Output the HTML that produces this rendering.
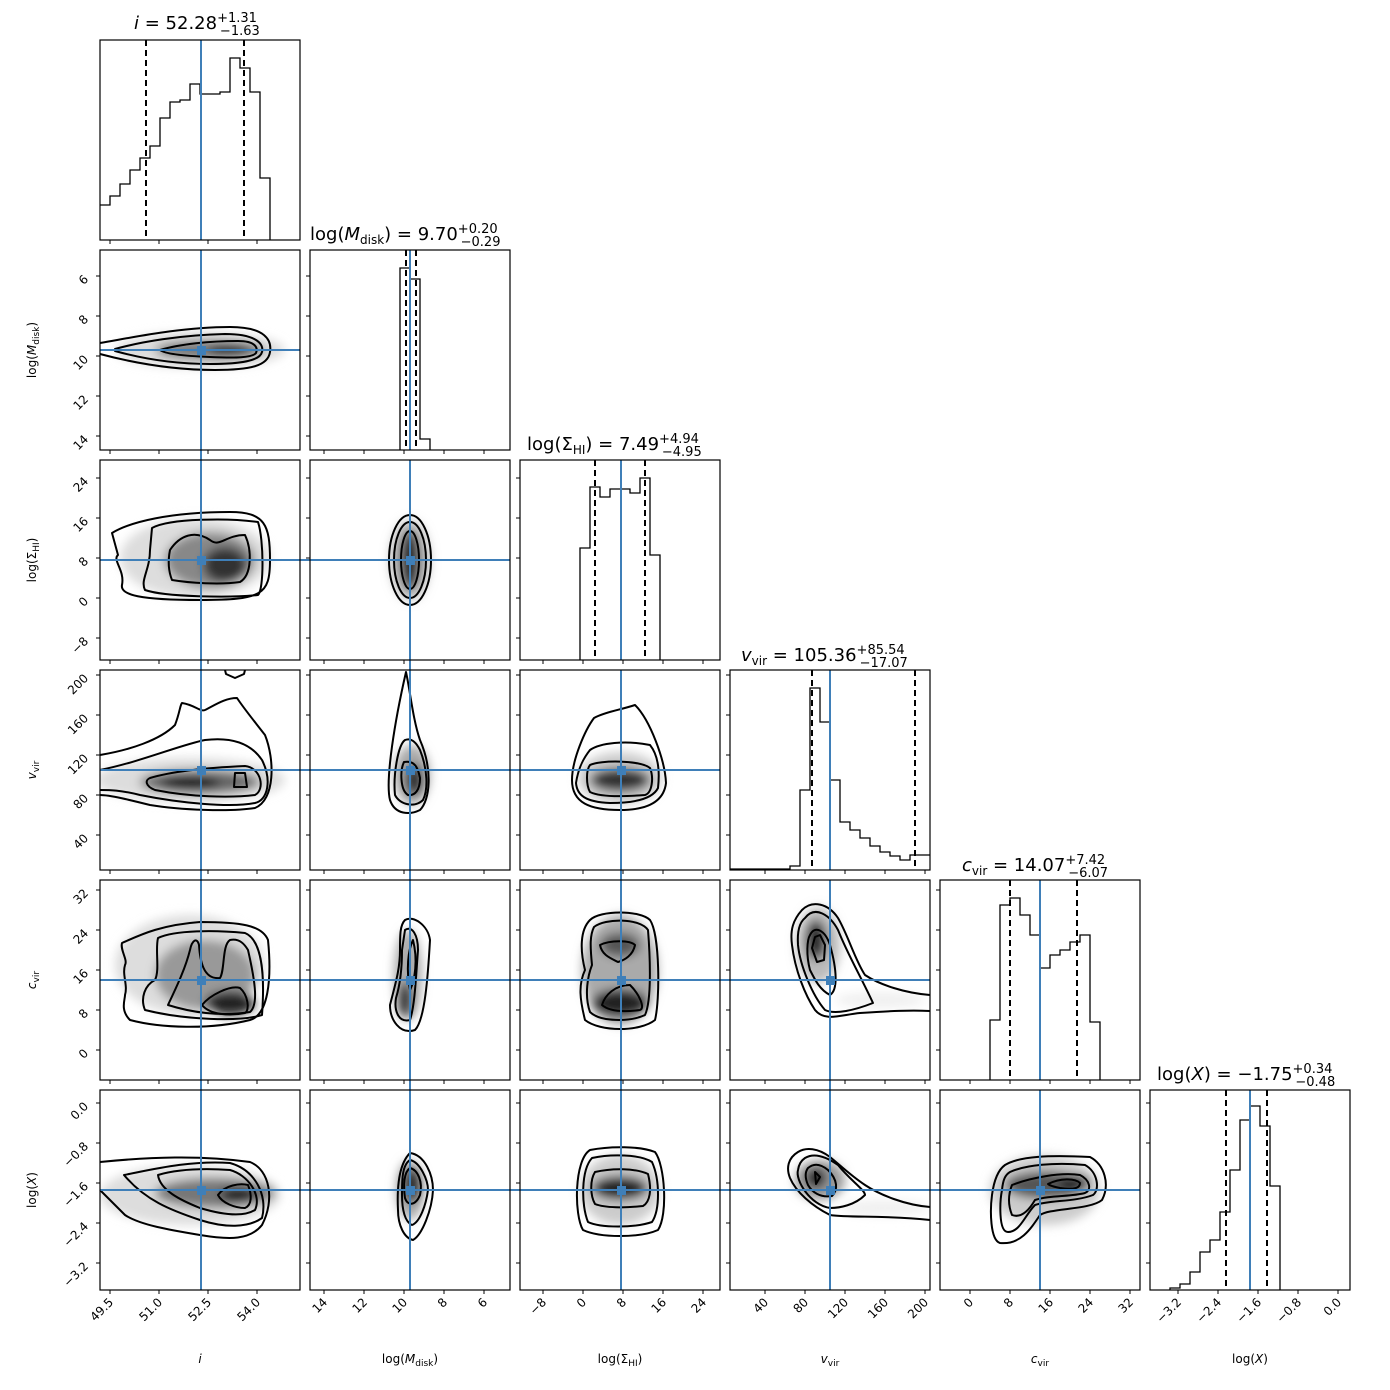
<!DOCTYPE html>
<html><head><meta charset="utf-8"><style>
html,body{margin:0;padding:0;background:#fff}
svg{display:block}
text{font-family:"DejaVu Sans","Liberation Sans",sans-serif;fill:#000}
.c{fill:none;stroke:#000;stroke-width:2;stroke-linejoin:round}
.h{fill:none;stroke:#000;stroke-width:1.3}
.d{stroke:#000;stroke-width:2;stroke-dasharray:6,4}
.b{stroke:#3f7fb8;stroke-width:2}
.ax{fill:none;stroke:#000;stroke-width:1.2}
.tk{stroke:#000;stroke-width:1}
.tl{font-size:12px}
.ti{font-size:18px}
.lb{font-size:12px}
</style></head><body>
<svg width="1390" height="1390" viewBox="0 0 1390 1390" xmlns="http://www.w3.org/2000/svg">
<defs>
<filter id="bl" x="-50%" y="-50%" width="200%" height="200%"><feGaussianBlur stdDeviation="5"/></filter>
</defs>

<!-- ===== Histograms ===== -->
<path class="h" d="M100,205 H110 V196 H120 V184 H130 V170 H140 V158 H150 V146 H160 V118 H170 V102 H180 V100 H190 V84 H200 V94 H220 V92 H230 V58 H240 V68 H250 V92 H260 V178 H270 V240"/>
<line class="d" x1="146" y1="40" x2="146" y2="240"/><line class="d" x1="244" y1="40" x2="244" y2="240"/>
<line class="b" x1="201" y1="40" x2="201" y2="240"/>
<path class="h" d="M400,450 V268 H410 V279 H420 V439 H430 V450"/>
<line class="d" x1="406" y1="250" x2="406" y2="450"/><line class="d" x1="416" y1="250" x2="416" y2="450"/>
<line class="b" x1="410" y1="250" x2="410" y2="450"/>
<path class="h" d="M580,660 V548 H590 V487 H600 V497 H610 V489 H630 V493 H640 V478 H650 V555 H660 V660"/>
<line class="d" x1="595" y1="460" x2="595" y2="660"/><line class="d" x1="645" y1="460" x2="645" y2="660"/>
<line class="b" x1="621" y1="460" x2="621" y2="660"/>
<path class="h" d="M730,869 H790 V866 H800 V790 H810 V688 H820 V722 H830 V780 H840 V822 H850 V830 H860 V838 H870 V846 H880 V852 H890 V856 H900 V860 H910 V855 H920 V855 H930"/>
<line class="d" x1="812" y1="670" x2="812" y2="870"/><line class="d" x1="915" y1="670" x2="915" y2="870"/>
<line class="b" x1="830" y1="670" x2="830" y2="870"/>
<path class="h" d="M990,1080 V1020 H1000 V905 H1010 V898 H1020 V915 H1030 V935 H1040 V968 H1050 V955 H1060 V950 H1070 V942 H1080 V935 H1090 V1022 H1100 V1080"/>
<line class="d" x1="1010" y1="880" x2="1010" y2="1080"/><line class="d" x1="1077" y1="880" x2="1077" y2="1080"/>
<line class="b" x1="1040" y1="880" x2="1040" y2="1080"/>
<path class="h" d="M1170,1290 V1288 H1180 V1284 H1190 V1272 H1200 V1252 H1210 V1240 H1220 V1212 H1230 V1170 H1240 V1120 H1250 V1106 H1260 V1126 H1270 V1186 H1280 V1290"/>
<line class="d" x1="1226" y1="1090" x2="1226" y2="1290"/><line class="d" x1="1267" y1="1090" x2="1267" y2="1290"/>
<line class="b" x1="1250" y1="1090" x2="1250" y2="1290"/>

<!-- ===== gray density ===== -->
<g filter="url(#bl)">
 <ellipse cx="200" cy="350" rx="85" ry="18" fill="#ddd"/>
 <ellipse cx="210" cy="350" rx="55" ry="10" fill="#777"/>
 <ellipse cx="230" cy="350" rx="22" ry="6" fill="#222"/>
 <ellipse cx="195" cy="558" rx="75" ry="40" fill="#ddd"/>
 <ellipse cx="210" cy="560" rx="45" ry="28" fill="#888"/>
 <ellipse cx="225" cy="565" rx="22" ry="18" fill="#333"/>
 <ellipse cx="410" cy="560" rx="20" ry="40" fill="#bbb"/>
 <ellipse cx="410" cy="560" rx="10" ry="30" fill="#222"/>
 <ellipse cx="190" cy="780" rx="95" ry="22" fill="#ddd"/>
 <ellipse cx="200" cy="782" rx="60" ry="12" fill="#666"/>
 <ellipse cx="190" cy="783" rx="30" ry="6" fill="#111"/>
 <ellipse cx="412" cy="775" rx="18" ry="30" fill="#aaa"/>
 <ellipse cx="414" cy="780" rx="9" ry="16" fill="#222"/>
 <ellipse cx="620" cy="778" rx="42" ry="26" fill="#ccc"/>
 <ellipse cx="620" cy="780" rx="30" ry="12" fill="#333"/>
 <ellipse cx="190" cy="965" rx="75" ry="50" fill="#ddd"/>
 <ellipse cx="205" cy="975" rx="50" ry="35" fill="#999"/>
 <ellipse cx="230" cy="1003" rx="25" ry="12" fill="#222"/>
 <ellipse cx="408" cy="975" rx="14" ry="45" fill="#aaa"/>
 <ellipse cx="405" cy="1000" rx="7" ry="18" fill="#222"/>
 <ellipse cx="620" cy="970" rx="38" ry="55" fill="#aaa"/>
 <ellipse cx="620" cy="1003" rx="28" ry="14" fill="#222"/>
 <ellipse cx="620" cy="945" rx="20" ry="12" fill="#555"/>
 <ellipse cx="880" cy="1000" rx="45" ry="8" fill="#f0f0f0"/>
 <ellipse cx="818" cy="945" rx="22" ry="38" fill="#bbb"/>
 <ellipse cx="816" cy="940" rx="10" ry="20" fill="#222"/>
 <ellipse cx="190" cy="1195" rx="90" ry="30" fill="#ddd"/>
 <ellipse cx="215" cy="1193" rx="60" ry="15" fill="#777"/>
 <ellipse cx="238" cy="1195" rx="18" ry="7" fill="#111"/>
 <ellipse cx="410" cy="1190" rx="14" ry="30" fill="#aaa"/>
 <ellipse cx="412" cy="1185" rx="9" ry="18" fill="#222"/>
 <ellipse cx="620" cy="1190" rx="40" ry="35" fill="#ccc"/>
 <ellipse cx="620" cy="1188" rx="28" ry="12" fill="#222"/>
 <ellipse cx="885" cy="1208" rx="45" ry="8" fill="#f0f0f0"/>
 <ellipse cx="820" cy="1180" rx="25" ry="20" fill="#999"/>
 <ellipse cx="816" cy="1178" rx="10" ry="10" fill="#111"/>
 <ellipse cx="1045" cy="1190" rx="55" ry="35" fill="#ccc"/>
 <ellipse cx="1045" cy="1185" rx="40" ry="14" fill="#555"/>
 <ellipse cx="1075" cy="1183" rx="15" ry="8" fill="#111"/>
</g>
<g fill="#fff">
 <rect x="0" y="240" width="1390" height="10"/><rect x="0" y="450" width="1390" height="10"/>
 <rect x="0" y="660" width="1390" height="10"/><rect x="0" y="870" width="1390" height="10"/>
 <rect x="0" y="1080" width="1390" height="10"/><rect x="0" y="1290" width="1390" height="10"/>
 <rect x="300" y="250" width="10" height="1050"/><rect x="510" y="460" width="10" height="840"/>
 <rect x="720" y="670" width="10" height="630"/><rect x="930" y="880" width="10" height="420"/>
 <rect x="1140" y="1090" width="10" height="210"/><rect x="80" y="250" width="20" height="1050"/>
</g>

<!-- ===== Contours ===== -->
<path class="c" d="M100,343 C130,338 180,327 230,327 C265,327 272,340 270,352 C268,366 250,370 215,370 C170,370 130,362 100,354"/>
<path class="c" d="M115,349 C140,342 180,335 225,334 C258,334 264,345 262,352 C260,361 240,364 210,364 C170,364 140,358 115,351 Z"/>
<path class="c" d="M160,350 C180,344 210,341 238,341 C256,341 258,348 256,353 C252,358 235,358 210,357 C185,356 165,354 160,350 Z"/>
<path class="c" d="M112,533 C130,522 170,512 230,512 C265,512 270,525 270,560 C270,595 262,600 200,600 C140,600 120,595 122,585 C125,570 112,560 118,555 Z"/>
<path class="c" d="M152,528 C170,518 230,518 258,522 C264,540 264,590 258,595 C230,598 165,597 145,590 C140,580 150,570 150,550 Z"/>
<path class="c" d="M170,550 C180,535 195,530 210,540 C220,548 225,535 245,535 C252,550 252,575 240,582 C220,585 190,583 172,580 C168,570 168,560 170,550 Z"/>
<ellipse class="c" cx="410" cy="560" rx="21" ry="45"/>
<ellipse class="c" cx="410" cy="560" rx="16" ry="38"/>
<ellipse class="c" cx="410" cy="560" rx="9" ry="29"/>
<path class="c" d="M100,755 C130,750 160,740 175,725 C180,712 180,705 182,703 C195,705 200,712 205,710 C215,705 225,698 237,698 C245,710 255,722 265,735 C275,760 275,800 255,808 C230,812 180,810 150,805 C130,800 110,795 100,795"/>
<path class="c" d="M100,770 C140,762 180,745 205,740 C230,737 250,742 262,760 C272,780 268,800 255,803 C230,808 180,803 140,795 C120,790 110,790 100,790"/>
<path class="c" d="M150,778 C170,772 200,768 245,766 C262,768 265,790 255,795 C230,798 190,797 155,790 C145,786 145,780 150,778 Z"/>
<path class="c" d="M235,773 H245 L247,787 H234 Z"/>
<path class="c" d="M225,670 L226,674 L235,678 L244,674 L245,670"/>
<path class="c" d="M406,672 C395,720 385,780 390,800 C395,815 410,815 420,810 C430,800 433,770 420,740 C413,720 410,690 406,672 Z"/>
<path class="c" d="M405,740 C398,745 393,775 395,795 C400,805 415,808 423,800 C428,790 428,770 420,750 C415,740 410,738 405,740 Z"/>
<path class="c" d="M404,762 C400,770 400,790 408,795 C415,796 420,790 420,778 C418,768 415,760 404,762 Z"/>
<path class="c" d="M594,718 C605,712 620,710 635,705 C650,720 665,760 666,783 C664,800 650,810 620,810 C590,810 572,803 572,780 C572,760 585,730 594,718 Z"/>
<path class="c" d="M590,750 C600,743 625,740 650,745 C658,755 660,770 658,788 C652,800 630,803 610,803 C585,802 577,795 576,783 C578,770 582,760 590,750 Z"/>
<path class="c" d="M590,765 C600,760 640,760 650,768 C654,778 652,793 645,795 C620,797 600,797 590,792 C586,785 586,770 590,765 Z"/>
<path class="c" d="M122,943 C140,935 160,925 200,922 C240,922 262,925 268,940 C272,980 268,1015 250,1020 C210,1030 160,1028 130,1020 C120,1010 125,1000 125,995 C128,985 122,975 125,965 C128,960 120,950 122,943 Z"/>
<path class="c" d="M158,938 C175,930 215,930 245,933 C262,940 265,975 262,1015 C240,1022 185,1020 145,1010 C140,998 145,985 155,980 C160,970 155,950 158,938 Z"/>
<path class="c" d="M168,1005 C175,990 185,970 190,950 C192,940 197,937 199,945 C200,960 203,980 220,978 C225,970 222,945 230,940 C240,938 245,945 248,950 C256,985 258,1005 250,1012 C220,1017 190,1012 168,1005 Z"/>
<path class="c" d="M202,1005 C210,995 230,985 240,988 C248,995 250,1010 245,1013 C230,1016 210,1015 202,1005 Z"/>
<path class="c" d="M405,920 C413,915 428,925 430,940 C428,975 425,1020 415,1030 C400,1035 390,1020 390,1005 C395,985 400,970 400,950 C400,935 400,925 405,920 Z"/>
<path class="c" d="M405,930 C412,925 418,935 418,950 C416,975 415,1005 410,1020 C398,1023 394,1010 396,998 C400,985 402,970 402,950 Z"/>
<path class="c" d="M413,940 C418,960 415,980 410,990 C406,970 408,950 413,940 Z"/>
<path class="c" d="M590,920 C600,910 640,910 650,920 C660,935 660,1000 655,1020 C640,1032 600,1032 585,1020 C580,1000 578,985 585,970 C580,950 580,930 590,920 Z"/>
<path class="c" d="M594,927 C605,918 640,918 648,930 C650,955 652,1000 645,1015 C630,1022 600,1022 590,1012 C584,995 588,975 592,965 C590,945 590,935 594,927 Z"/>
<path class="c" d="M600,945 C610,940 630,940 635,945 C633,955 625,960 618,962 C610,958 602,955 600,945 Z"/>
<path class="c" d="M602,1005 C605,995 615,985 630,985 C640,995 645,1008 640,1010 C625,1012 610,1012 602,1005 Z"/>
<!-- (4,3) -->
<path class="c" d="M930,995 C905,993 880,985 865,975 C855,960 848,935 838,918 C828,903 812,900 802,910 C793,920 790,930 792,945 C795,970 805,995 815,1010 C825,1022 840,1015 860,1013 C890,1011 910,1010 930,1011"/>
<path class="c" d="M805,918 C815,905 830,915 838,930 C848,955 860,975 873,1003 C855,1010 835,1015 825,1010 C812,995 800,965 798,945 C797,930 800,922 805,918 Z"/>
<path class="c" d="M810,935 C815,925 825,930 830,945 C837,970 838,990 830,995 C820,990 815,980 810,970 C806,955 807,940 810,935 Z"/>
<path class="c" d="M815,937 L820,935 L825,945 L824,960 L817,962 L812,948 Z"/>
<path class="c" d="M100,1162 C150,1157 200,1155 250,1162 C270,1170 275,1200 262,1225 C250,1240 230,1240 200,1235 C170,1230 140,1225 125,1215 C115,1205 105,1195 100,1190"/>
<path class="c" d="M124,1175 C150,1170 190,1160 230,1163 C255,1170 268,1195 262,1218 C248,1228 225,1228 200,1220 C170,1210 145,1200 124,1175 Z"/>
<path class="c" d="M158,1175 C175,1170 200,1168 230,1170 C248,1175 262,1195 255,1210 C242,1218 220,1214 200,1208 C180,1200 160,1190 158,1175 Z"/>
<path class="c" d="M218,1195 C225,1185 240,1183 248,1185 C252,1195 252,1205 245,1208 C235,1208 222,1203 218,1195 Z"/>
<path class="c" d="M410,1153 C425,1155 433,1175 433,1190 C432,1210 422,1235 413,1240 C404,1238 398,1225 398,1210 C397,1190 398,1165 410,1153 Z"/>
<path class="c" d="M410,1160 C420,1162 428,1180 428,1190 C426,1205 420,1222 412,1225 C405,1222 402,1210 402,1195 C402,1180 402,1165 410,1160 Z"/>
<path class="c" d="M410,1168 C418,1170 423,1182 420,1195 C416,1205 408,1207 405,1198 C403,1185 404,1172 410,1168 Z"/>
<path class="c" d="M590,1150 C610,1146 640,1146 655,1152 C665,1165 668,1215 658,1230 C640,1238 600,1238 583,1230 C574,1215 574,1160 590,1150 Z"/>
<path class="c" d="M592,1158 C610,1154 640,1154 652,1162 C660,1180 660,1210 652,1222 C635,1228 600,1228 588,1222 C581,1205 581,1170 592,1158 Z"/>
<path class="c" d="M595,1172 C612,1168 635,1168 648,1174 C652,1190 650,1202 643,1206 C625,1208 605,1208 595,1204 C590,1195 590,1180 595,1172 Z"/>
<!-- (5,3) -->
<path class="c" d="M930,1207 C905,1205 880,1195 865,1185 C850,1175 840,1165 830,1157 C818,1148 806,1147 798,1152 C788,1158 786,1168 790,1178 C796,1192 812,1206 830,1215 C850,1218 885,1215 930,1220"/>
<path class="c" d="M805,1158 C815,1152 828,1158 838,1165 C850,1180 865,1190 865,1195 C855,1205 840,1208 830,1208 C810,1205 795,1180 798,1170 C799,1163 802,1160 805,1158 Z"/>
<path class="c" d="M808,1168 C815,1162 822,1165 828,1170 C838,1180 838,1190 832,1196 C820,1198 812,1192 808,1185 C805,1178 805,1172 808,1168 Z"/>
<path class="c" d="M815,1172 L820,1177 L816,1184 Z"/>
<path class="c" d="M1005,1165 C1020,1156 1050,1155 1090,1157 C1105,1165 1110,1185 1102,1200 C1090,1210 1050,1208 1040,1215 C1030,1230 1020,1245 1000,1243 C990,1240 990,1210 992,1195 C994,1180 998,1170 1005,1165 Z"/>
<path class="c" d="M1010,1172 C1025,1165 1055,1162 1085,1165 C1098,1172 1100,1190 1093,1195 C1075,1202 1050,1200 1035,1205 C1025,1215 1020,1232 1008,1232 C998,1232 1000,1200 1002,1190 C1003,1180 1005,1175 1010,1172 Z"/>
<path class="c" d="M1012,1185 C1030,1178 1060,1172 1080,1175 C1090,1180 1092,1190 1085,1193 C1070,1197 1050,1195 1035,1200 C1028,1212 1020,1218 1012,1215 C1008,1205 1008,1195 1012,1185 Z"/>
<path class="c" d="M1048,1184 C1060,1178 1075,1178 1080,1183 C1080,1188 1075,1190 1060,1188 C1055,1187 1050,1186 1048,1184 Z"/>

<!-- ===== blue crosshairs ===== -->
<g class="b">
 <line x1="201" y1="250" x2="201" y2="1290"/>
 <line x1="410" y1="460" x2="410" y2="1290"/>
 <line x1="621" y1="670" x2="621" y2="1290"/>
 <line x1="830" y1="880" x2="830" y2="1290"/>
 <line x1="1040" y1="1090" x2="1040" y2="1290"/>
 <line x1="100" y1="350" x2="300" y2="350"/>
 <line x1="100" y1="560" x2="510" y2="560"/>
 <line x1="100" y1="770" x2="720" y2="770"/>
 <line x1="100" y1="980" x2="930" y2="980"/>
 <line x1="100" y1="1190" x2="1140" y2="1190"/>
</g>
<g fill="#3f7fb8">
 <rect x="197" y="346" width="9" height="9"/>
 <rect x="197" y="556" width="9" height="9"/><rect x="406" y="556" width="9" height="9"/>
 <rect x="197" y="766" width="9" height="9"/><rect x="406" y="766" width="9" height="9"/><rect x="617" y="766" width="9" height="9"/>
 <rect x="197" y="976" width="9" height="9"/><rect x="406" y="976" width="9" height="9"/><rect x="617" y="976" width="9" height="9"/><rect x="826" y="976" width="9" height="9"/>
 <rect x="197" y="1186" width="9" height="9"/><rect x="406" y="1186" width="9" height="9"/><rect x="617" y="1186" width="9" height="9"/><rect x="826" y="1186" width="9" height="9"/><rect x="1036" y="1186" width="9" height="9"/>
</g>

<!-- ===== axes frames ===== -->
<g class="ax">
 <rect x="100" y="40" width="200" height="200"/>
 <rect x="100" y="250" width="200" height="200"/><rect x="310" y="250" width="200" height="200"/>
 <rect x="100" y="460" width="200" height="200"/><rect x="310" y="460" width="200" height="200"/><rect x="520" y="460" width="200" height="200"/>
 <rect x="100" y="670" width="200" height="200"/><rect x="310" y="670" width="200" height="200"/><rect x="520" y="670" width="200" height="200"/><rect x="730" y="670" width="200" height="200"/>
 <rect x="100" y="880" width="200" height="200"/><rect x="310" y="880" width="200" height="200"/><rect x="520" y="880" width="200" height="200"/><rect x="730" y="880" width="200" height="200"/><rect x="940" y="880" width="200" height="200"/>
 <rect x="100" y="1090" width="200" height="200"/><rect x="310" y="1090" width="200" height="200"/><rect x="520" y="1090" width="200" height="200"/><rect x="730" y="1090" width="200" height="200"/><rect x="940" y="1090" width="200" height="200"/><rect x="1150" y="1090" width="200" height="200"/>
</g>

<g class="tk">
 <path d="M110,240v4M159,240v4M208,240v4M257,240v4 M110,450v4M159,450v4M208,450v4M257,450v4 M110,660v4M159,660v4M208,660v4M257,660v4 M110,870v4M159,870v4M208,870v4M257,870v4 M110,1080v4M159,1080v4M208,1080v4M257,1080v4 M110,1290v4M159,1290v4M208,1290v4M257,1290v4"/>
 <path d="M324,450v4M364,450v4M404,450v4M444,450v4M484,450v4 M324,660v4M364,660v4M404,660v4M444,660v4M484,660v4 M324,870v4M364,870v4M404,870v4M444,870v4M484,870v4 M324,1080v4M364,1080v4M404,1080v4M444,1080v4M484,1080v4 M324,1290v4M364,1290v4M404,1290v4M444,1290v4M484,1290v4"/>
 <path d="M543,660v4M583,660v4M623,660v4M663,660v4M703,660v4 M543,870v4M583,870v4M623,870v4M663,870v4M703,870v4 M543,1080v4M583,1080v4M623,1080v4M663,1080v4M703,1080v4 M543,1290v4M583,1290v4M623,1290v4M663,1290v4M703,1290v4"/>
 <path d="M765,870v4M805,870v4M845,870v4M885,870v4M925,870v4 M765,1080v4M805,1080v4M845,1080v4M885,1080v4M925,1080v4 M765,1290v4M805,1290v4M845,1290v4M885,1290v4M925,1290v4"/>
 <path d="M970,1080v4M1010,1080v4M1050,1080v4M1090,1080v4M1130,1080v4 M970,1290v4M1010,1290v4M1050,1290v4M1090,1290v4M1130,1290v4"/>
 <path d="M1178,1290v4M1218,1290v4M1258,1290v4M1298,1290v4M1338,1290v4"/>
 <path d="M96,276h4M96,316h4M96,356h4M96,396h4M96,436h4 M306,276h4M306,316h4M306,356h4M306,396h4M306,436h4"/>
 <path d="M96,478h4M96,518h4M96,558h4M96,598h4M96,638h4 M306,478h4M306,518h4M306,558h4M306,598h4M306,638h4 M516,478h4M516,518h4M516,558h4M516,598h4M516,638h4"/>
 <path d="M96,675h4M96,715h4M96,755h4M96,795h4M96,835h4 M306,675h4M306,715h4M306,755h4M306,795h4M306,835h4 M516,675h4M516,715h4M516,755h4M516,795h4M516,835h4 M726,675h4M726,715h4M726,755h4M726,795h4M726,835h4"/>
 <path d="M96,890h4M96,930h4M96,970h4M96,1010h4M96,1050h4 M306,890h4M306,930h4M306,970h4M306,1010h4M306,1050h4 M516,890h4M516,930h4M516,970h4M516,1010h4M516,1050h4 M726,890h4M726,930h4M726,970h4M726,1010h4M726,1050h4 M936,890h4M936,930h4M936,970h4M936,1010h4M936,1050h4"/>
 <path d="M96,1103h4M96,1143h4M96,1183h4M96,1223h4M96,1263h4 M306,1103h4M306,1143h4M306,1183h4M306,1223h4M306,1263h4 M516,1103h4M516,1143h4M516,1183h4M516,1223h4M516,1263h4 M726,1103h4M726,1143h4M726,1183h4M726,1223h4M726,1263h4 M936,1103h4M936,1143h4M936,1183h4M936,1223h4M936,1263h4 M1146,1103h4M1146,1143h4M1146,1183h4M1146,1223h4M1146,1263h4"/>
</g>

<g class="tl" text-anchor="end">
 <text transform="translate(114,1303) rotate(-45)">49.5</text>
 <text transform="translate(163,1303) rotate(-45)">51.0</text>
 <text transform="translate(212,1303) rotate(-45)">52.5</text>
 <text transform="translate(261,1303) rotate(-45)">54.0</text>
 <text transform="translate(328,1303) rotate(-45)">14</text>
 <text transform="translate(368,1303) rotate(-45)">12</text>
 <text transform="translate(408,1303) rotate(-45)">10</text>
 <text transform="translate(448,1303) rotate(-45)">8</text>
 <text transform="translate(488,1303) rotate(-45)">6</text>
 <text transform="translate(547,1303) rotate(-45)">−8</text>
 <text transform="translate(587,1303) rotate(-45)">0</text>
 <text transform="translate(627,1303) rotate(-45)">8</text>
 <text transform="translate(667,1303) rotate(-45)">16</text>
 <text transform="translate(707,1303) rotate(-45)">24</text>
 <text transform="translate(769,1303) rotate(-45)">40</text>
 <text transform="translate(809,1303) rotate(-45)">80</text>
 <text transform="translate(849,1303) rotate(-45)">120</text>
 <text transform="translate(889,1303) rotate(-45)">160</text>
 <text transform="translate(929,1303) rotate(-45)">200</text>
 <text transform="translate(974,1303) rotate(-45)">0</text>
 <text transform="translate(1014,1303) rotate(-45)">8</text>
 <text transform="translate(1054,1303) rotate(-45)">16</text>
 <text transform="translate(1094,1303) rotate(-45)">24</text>
 <text transform="translate(1134,1303) rotate(-45)">32</text>
 <text transform="translate(1182,1303) rotate(-45)">−3.2</text>
 <text transform="translate(1222,1303) rotate(-45)">−2.4</text>
 <text transform="translate(1262,1303) rotate(-45)">−1.6</text>
 <text transform="translate(1302,1303) rotate(-45)">−0.8</text>
 <text transform="translate(1342,1303) rotate(-45)">0.0</text>
</g>
<g class="tl" text-anchor="end">
 <text transform="translate(89,280) rotate(-45)">6</text>
 <text transform="translate(89,320) rotate(-45)">8</text>
 <text transform="translate(89,360) rotate(-45)">10</text>
 <text transform="translate(89,400) rotate(-45)">12</text>
 <text transform="translate(89,440) rotate(-45)">14</text>
 <text transform="translate(89,482) rotate(-45)">24</text>
 <text transform="translate(89,522) rotate(-45)">16</text>
 <text transform="translate(89,562) rotate(-45)">8</text>
 <text transform="translate(89,602) rotate(-45)">0</text>
 <text transform="translate(89,642) rotate(-45)">−8</text>
 <text transform="translate(89,679) rotate(-45)">200</text>
 <text transform="translate(89,719) rotate(-45)">160</text>
 <text transform="translate(89,759) rotate(-45)">120</text>
 <text transform="translate(89,799) rotate(-45)">80</text>
 <text transform="translate(89,839) rotate(-45)">40</text>
 <text transform="translate(89,894) rotate(-45)">32</text>
 <text transform="translate(89,934) rotate(-45)">24</text>
 <text transform="translate(89,974) rotate(-45)">16</text>
 <text transform="translate(89,1014) rotate(-45)">8</text>
 <text transform="translate(89,1054) rotate(-45)">0</text>
 <text transform="translate(89,1107) rotate(-45)">0.0</text>
 <text transform="translate(89,1147) rotate(-45)">−0.8</text>
 <text transform="translate(89,1187) rotate(-45)">−1.6</text>
 <text transform="translate(89,1227) rotate(-45)">−2.4</text>
 <text transform="translate(89,1267) rotate(-45)">−3.2</text>
</g>

<g class="lb" text-anchor="middle">
 <text x="200" y="1363" font-style="italic">i</text>
 <text x="410" y="1363">log(<tspan font-style="italic">M</tspan><tspan font-size="9" dy="3">disk</tspan><tspan dy="-3">)</tspan></text>
 <text x="620" y="1363">log(Σ<tspan font-size="9" dy="3">HI</tspan><tspan dy="-3">)</tspan></text>
 <text x="830" y="1363"><tspan font-style="italic">v</tspan><tspan font-size="9" dy="3">vir</tspan></text>
 <text x="1040" y="1363"><tspan font-style="italic">c</tspan><tspan font-size="9" dy="3">vir</tspan></text>
 <text x="1250" y="1363">log(<tspan font-style="italic">X</tspan>)</text>
 <text transform="translate(36,350) rotate(-90)">log(<tspan font-style="italic">M</tspan><tspan font-size="9" dy="3">disk</tspan><tspan dy="-3">)</tspan></text>
 <text transform="translate(36,560) rotate(-90)">log(Σ<tspan font-size="9" dy="3">HI</tspan><tspan dy="-3">)</tspan></text>
 <text transform="translate(36,770) rotate(-90)"><tspan font-style="italic">v</tspan><tspan font-size="9" dy="3">vir</tspan></text>
 <text transform="translate(36,980) rotate(-90)"><tspan font-style="italic">c</tspan><tspan font-size="9" dy="3">vir</tspan></text>
 <text transform="translate(36,1190) rotate(-90)">log(<tspan font-style="italic">X</tspan>)</text>
</g>

<!-- ===== titles (flowing tspans) ===== -->
<g class="ti">
 <text x="134" y="29"><tspan font-style="italic">i</tspan> = 52.28<tspan font-size="13" dy="-7">+1.31</tspan><tspan font-size="13" dx="-37" dy="13">−1.63</tspan></text>
 <text x="310" y="240">log(<tspan font-style="italic">M</tspan><tspan font-size="12" dy="4">disk</tspan><tspan dy="-4">) = 9.70</tspan><tspan font-size="13" dy="-7">+0.20</tspan><tspan font-size="13" dx="-37" dy="13">−0.29</tspan></text>
 <text x="527" y="450">log(Σ<tspan font-size="12" dy="4">HI</tspan><tspan dy="-4">) = 7.49</tspan><tspan font-size="13" dy="-7">+4.94</tspan><tspan font-size="13" dx="-37" dy="13">−4.95</tspan></text>
 <text x="741" y="661"><tspan font-style="italic">v</tspan><tspan font-size="12" dy="4">vir</tspan><tspan dy="-4"> = 105.36</tspan><tspan font-size="13" dy="-7">+85.54</tspan><tspan font-size="13" dx="-45" dy="13">−17.07</tspan></text>
 <text x="962" y="871"><tspan font-style="italic">c</tspan><tspan font-size="12" dy="4">vir</tspan><tspan dy="-4"> = 14.07</tspan><tspan font-size="13" dy="-7">+7.42</tspan><tspan font-size="13" dx="-37" dy="13">−6.07</tspan></text>
 <text x="1157" y="1080">log(<tspan font-style="italic">X</tspan>) = −1.75<tspan font-size="13" dy="-7">+0.34</tspan><tspan font-size="13" dx="-37" dy="13">−0.48</tspan></text>
</g>
</svg>
</body></html>
